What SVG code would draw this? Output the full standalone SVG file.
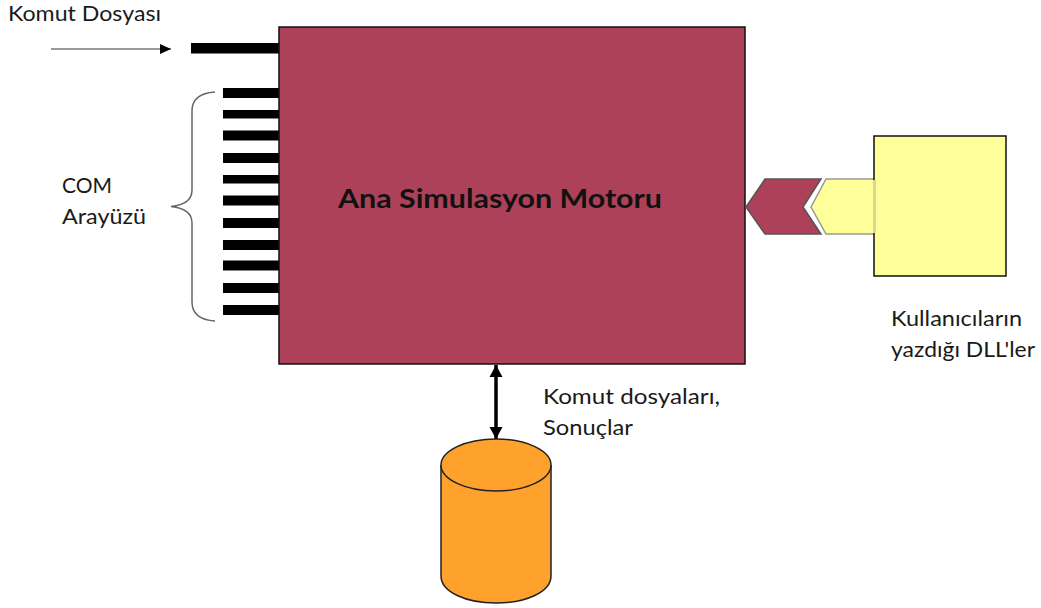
<svg xmlns="http://www.w3.org/2000/svg" width="1041" height="608" viewBox="0 0 1041 608">
<style>
text{font-family:"Lato","Open Sans","Liberation Sans",sans-serif;font-size:20.500px;fill:#1a1a1a}
.bar{fill:#000}
.ol{stroke:#111;stroke-width:1.5}
</style>
<defs>
<marker id="a1" markerUnits="userSpaceOnUse" markerWidth="12" markerHeight="12" refX="11" refY="6" orient="auto"><path d="M0,1L11,6L0,11Z" fill="#000"/></marker>
<marker id="a2" markerUnits="userSpaceOnUse" markerWidth="13" markerHeight="14" refX="12" refY="7" orient="auto-start-reverse"><path d="M0,0.500L12,7L0,13.500Z" fill="#000"/></marker>
</defs>
<rect width="1041" height="608" fill="#fff"/>
<g id="connectors">
<path d="M51 49H171" stroke="#777" stroke-width="1.500" fill="none" marker-end="url(#a1)"/>
<path d="M496 365V439" stroke="#000" stroke-width="3.500" fill="none" marker-start="url(#a2)" marker-end="url(#a2)"/>
</g>
<g id="com-ports">
<rect class="bar" x="191" y="43" width="88" height="10.500"/>
<rect class="bar" x="223" y="88" width="56" height="10"/>
<rect class="bar" x="223" y="110" width="56" height="8.500"/>
<rect class="bar" x="223" y="130.500" width="56" height="10"/>
<rect class="bar" x="223" y="153" width="56" height="10"/>
<rect class="bar" x="223" y="175" width="56" height="8.500"/>
<rect class="bar" x="223" y="195.500" width="56" height="10"/>
<rect class="bar" x="223" y="218" width="56" height="10"/>
<rect class="bar" x="223" y="240" width="56" height="10"/>
<rect class="bar" x="223" y="260.500" width="56" height="10"/>
<rect class="bar" x="223" y="283" width="56" height="10"/>
<rect class="bar" x="223" y="305" width="56" height="10"/>
</g>
<g id="brace">
<path d="M215 92C200 93 192 99 192 111V190C192 199 186 205 171 206.500C186 208 192 214 192 223V302C192 314 200 320 215 321" fill="none" stroke="#666" stroke-width="1.500"/>
</g>
<g id="engine">
<rect x="279" y="27" width="466" height="337" fill="#ad4159" class="ol"/>
<text x="500" y="208" text-anchor="middle" style="font-size:27px;font-weight:700;fill:#111" textLength="324" lengthAdjust="spacingAndGlyphs">Ana Simulasyon Motoru</text>
</g>
<g id="engine-connector">
<path d="M746 207L765 179H821L803 207L821 234H765Z" fill="#ad4159" stroke="#555" stroke-width="1.500"/>
</g>
<g id="dll">
<path d="M826 179H876V234H826L811 207Z" fill="#ffff99" stroke="#999" stroke-width="1.500"/>
<rect x="874" y="136" width="132" height="140" fill="#ffff99" class="ol"/>
<rect x="873" y="180" width="3" height="53" fill="#d8d88a"/>
</g>
<g id="database">
<path d="M441 465V576C441 592 466 603 496 603C526 603 551 592 551 576V465" fill="#ffa22d" stroke="#222" stroke-width="1.500"/>
<ellipse cx="496" cy="465" rx="55" ry="26" fill="#ffa22d" stroke="#222" stroke-width="1.500"/>
</g>
<g id="labels">
<text x="8" y="21" textLength="153" lengthAdjust="spacingAndGlyphs">Komut Dosyası</text>
<text x="62" y="193" textLength="50" lengthAdjust="spacingAndGlyphs">COM</text>
<text x="62" y="224" textLength="84" lengthAdjust="spacingAndGlyphs">Arayüzü</text>
<text x="891" y="326" textLength="131" lengthAdjust="spacingAndGlyphs">Kullanıcıların</text>
<text x="891" y="357" textLength="144" lengthAdjust="spacingAndGlyphs">yazdığı DLL'ler</text>
<text x="543" y="404" textLength="177" lengthAdjust="spacingAndGlyphs">Komut dosyaları,</text>
<text x="543" y="435" textLength="90" lengthAdjust="spacingAndGlyphs">Sonuçlar</text>
</g>
</svg>
